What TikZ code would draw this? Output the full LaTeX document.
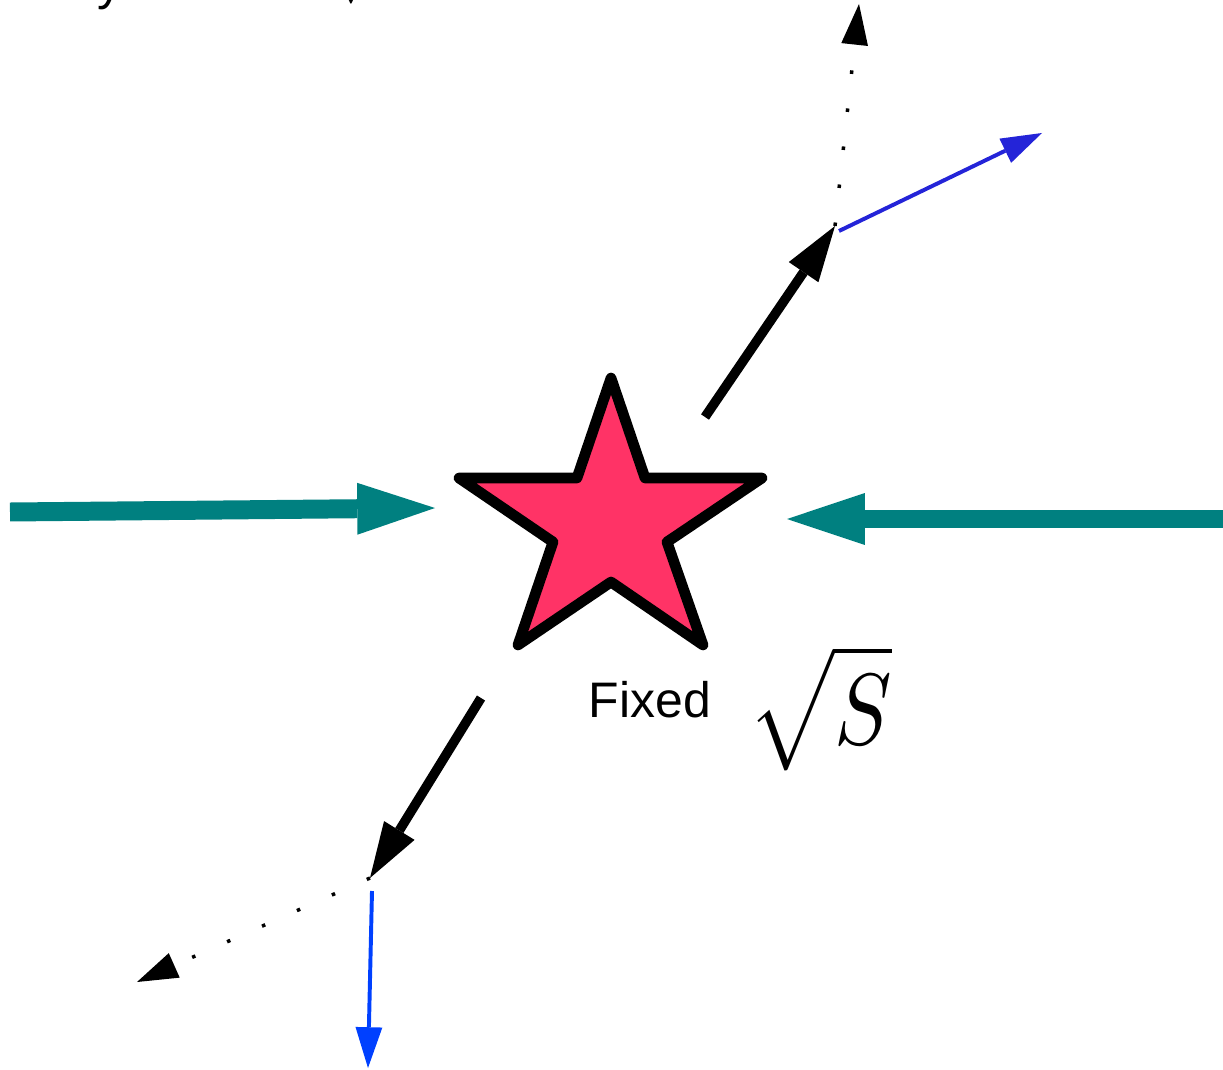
\documentclass[tikz,border=0pt]{standalone}
\usepackage{fontspec}
\setmainfont{Liberation Sans}
\usetikzlibrary{arrows.meta}
\definecolor{verdeazul}{RGB}{0,128,128}
\definecolor{estrella}{RGB}{255,51,102}
\definecolor{azulA}{RGB}{36,36,216}
\definecolor{azulB}{RGB}{0,64,255}
\begin{document}
\begin{tikzpicture}[x=0.025cm, y=-0.025cm,
  empuje/.style={draw=verdeazul, line width=13.5pt,
    -{Triangle[length=55.3pt, width=36.9pt, line width=0pt]}},
  salida/.style={draw=black, line width=6.8pt,
    -{Triangle[length=39.7pt, width=25.5pt, line width=0pt]}},
  punteada/.style={draw=black, line width=2.5pt, dash pattern=on 2.5pt off 24.7pt,
    -{Triangle[length=29pt, width=19.1pt, line width=0pt]}},
  fina/.style={line width=2.8pt,
    -{Triangle[length=29pt, width=19.1pt, line width=0pt]}},
  etiq/.style={inner sep=0pt, font=\fontsize{35.5}{40}\selectfont}]
\useasboundingbox (0,0) rectangle (1223,1070);
\clip (0,0) rectangle (1223,1070);
% Texto recortado arriba
\node[etiq, anchor=base west] (titulo) at (-50,0) {Velocity scales as$\!\sqrt{S}$};
% Estrella central
\draw[line width=7.6pt, line join=round, fill=estrella]
  (611,378) -- (645,478) -- (762,478) -- (667,542) -- (703,645)
  -- (611,582) -- (518,645) -- (553,542) -- (459,478) -- (577,478) -- cycle;
\node[etiq] (fijo) at (650,700) {Fixed};
\node[inner sep=0pt, xscale=6.1, yscale=7.2] (raiz) at (820,708)
  {$\displaystyle\sqrt{\vphantom{(}S}$};
% Puntos de las flechas
\coordinate (izq0) at (10,512);
\coordinate (izq1) at (435,508);
\coordinate (der0) at (1223,519);
\coordinate (der1) at (787,519);
\coordinate (arr0) at (705,417);
\coordinate (arr1) at (835,226);
\coordinate (arrP) at (859,4);
\coordinate (arrA0) at (839,231);
\coordinate (arrA) at (1042,133);
\coordinate (aba0) at (481,698);
\coordinate (aba1) at (370,878);
\coordinate (abaP) at (137,982);
\coordinate (abaA0) at (372,891);
\coordinate (abaA) at (368,1068);
% Flechas de empuje
\draw[empuje] (izq0) -- (izq1);
\draw[empuje] (der0) -- (der1);
% Rama superior
\draw[salida] (arr0) -- (arr1);
\draw[punteada] (arr1) -- (arrP);
\draw[fina, draw=azulA] (arrA0) -- (arrA);
% Rama inferior
\draw[salida] (aba0) -- (aba1);
\draw[punteada] (aba1) -- (abaP);
\draw[fina, draw=azulB] (abaA0) -- (abaA);
\end{tikzpicture}
\end{document}
